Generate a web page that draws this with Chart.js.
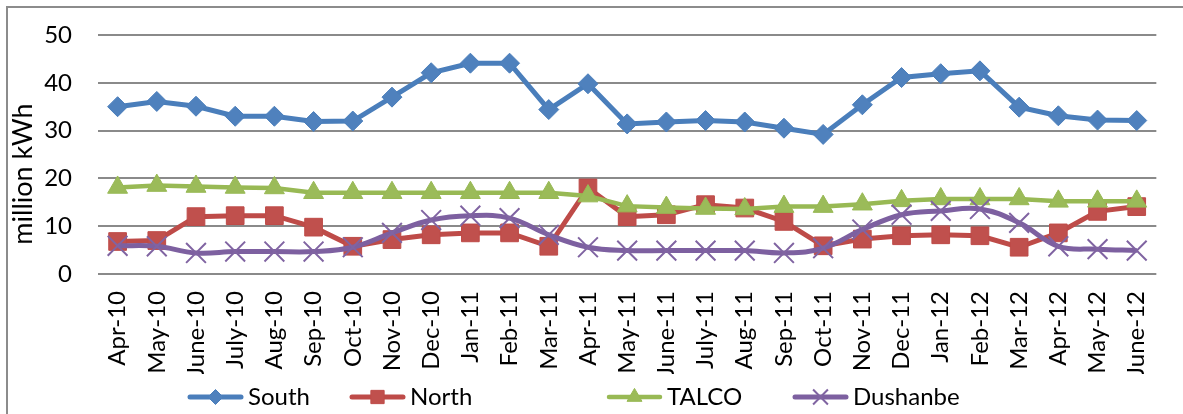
<!DOCTYPE html>
<html>
<head>
<meta charset="utf-8">
<title>Electricity consumption, million kWh</title>
<script src="https://cdn.jsdelivr.net/npm/chart.js@4/dist/chart.umd.min.js"></script>
<style>
  html, body { margin: 0; padding: 0; background: #fff; overflow: hidden; }
  #frame { position: absolute; left: 6px; top: 6px; width: 1300px; height: 500px;
           border: 2px solid #8c8c8c; box-sizing: border-box; }
  #c { position: absolute; left: 0; top: 0; }
</style>
</head>
<body>
<div id="frame"></div>
<canvas id="c" width="1183" height="414"></canvas>
<script>
// Monthly consumption by region, million kWh
const months = ['Apr-10','May-10','June-10','July-10','Aug-10','Sep-10','Oct-10','Nov-10','Dec-10',
  'Jan-11','Feb-11','Mar-11','Apr-11','May-11','June-11','July-11','Aug-11','Sep-11','Oct-11',
  'Nov-11','Dec-11','Jan-12','Feb-12','Mar-12','Apr-12','May-12','June-12'];

const south = [35.0, 36.1, 35.1, 33.0, 33.0, 31.9, 32.0, 37.0, 42.1, 44.1, 44.1, 34.4, 39.8, 31.4,
  31.8, 32.1, 31.8, 30.5, 29.2, 35.4, 41.1, 41.9, 42.5, 34.9, 33.1, 32.2, 32.1];

const north = [6.8, 7.0, 12.0, 12.2, 12.2, 9.8, 5.8, 7.2, 8.2, 8.6, 8.6, 5.8, 18.0, 12.0,
  12.4, 14.5, 13.8, 11.0, 5.9, 7.3, 8.0, 8.2, 8.0, 5.6, 8.6, 13.1, 14.1];

const talco = [18.1, 18.5, 18.3, 18.1, 18.0, 17.0, 17.0, 17.0, 17.0, 17.0, 17.0, 17.0, 16.3, 14.2,
  13.9, 13.7, 13.6, 14.1, 14.1, 14.6, 15.3, 15.7, 15.7, 15.7, 15.2, 15.2, 15.2];

const dushanbe = [5.9, 5.8, 4.4, 4.7, 4.7, 4.7, 5.6, 8.6, 11.3, 12.2, 11.7, 8.2, 5.6, 4.9,
  4.9, 4.9, 4.9, 4.4, 5.4, 9.3, 12.4, 13.2, 13.6, 10.7, 5.8, 5.2, 4.9];

const seriesNames = ['South', 'North', 'TALCO', 'Dushanbe'];
const yTicks = [0, 10, 20, 30, 40, 50];
const yTitle = 'million kWh';

const FONT = 'Lato, "Open Sans", "DejaVu Sans", sans-serif';
const FONT_SIZE = 24;
const TITLE_SIZE = 27;

// Legend entries: left edge of each symbol line
const legendLeft = [188, 350, 607, 793];
const legendY = 397;
const legendLine = 55;

function drawMarker(ctx, ds, x, y) {
  const opts = {
    pointStyle: ds.pointStyle,
    radius: ds.pointRadius,
    rotation: 0,
    borderWidth: ds.pointBorderWidth
  };
  ctx.save();
  ctx.fillStyle = ds.pointBackgroundColor;
  ctx.strokeStyle = ds.pointBorderColor;
  ctx.lineWidth = ds.pointBorderWidth;
  if (Chart.helpers && Chart.helpers.drawPoint) {
    Chart.helpers.drawPoint(ctx, opts, x, y);
  }
  ctx.restore();
}

const legendAndTitle = {
  id: 'legendAndTitle',
  afterDraw(chart) {
    const ctx = chart.ctx;
    // axis title
    ctx.save();
    ctx.font = TITLE_SIZE + 'px ' + FONT;
    ctx.fillStyle = '#000';
    ctx.textAlign = 'center';
    ctx.textBaseline = 'middle';
    ctx.translate(23, 174);
    ctx.rotate(-Math.PI / 2);
    ctx.fillText(yTitle, 0, 0);
    ctx.restore();

    // legend
    chart.data.datasets.forEach((ds, i) => {
      const x0 = legendLeft[i];
      ctx.save();
      ctx.strokeStyle = ds.borderColor;
      ctx.lineWidth = ds.borderWidth;
      ctx.lineCap = 'round';
      ctx.beginPath();
      ctx.moveTo(x0 + 2, legendY);
      ctx.lineTo(x0 + legendLine - 2, legendY);
      ctx.stroke();
      ctx.restore();
      drawMarker(ctx, Object.assign({}, ds, { pointRadius: ds.pointRadius * 0.75 }), x0 + legendLine / 2, legendY);
      ctx.save();
      ctx.font = FONT_SIZE + 'px ' + FONT;
      ctx.fillStyle = '#000';
      ctx.textAlign = 'left';
      ctx.textBaseline = 'middle';
      ctx.fillText(ds.label, x0 + legendLine + 5, legendY);
      ctx.restore();
    });
  }
};

function build() {
  const ctx = document.getElementById('c').getContext('2d');
  new Chart(ctx, {
    type: 'line',
    data: {
      labels: months,
      datasets: [
        {
          label: seriesNames[0], data: south, order: 4,
          borderColor: '#4A7EBB', borderWidth: 5,
          pointStyle: 'rectRot', pointRadius: 10, pointBorderWidth: 1,
          pointBackgroundColor: '#4F81BD', pointBorderColor: '#4A7EBB',
          tension: 0
        },
        {
          label: seriesNames[1], data: north, order: 3,
          borderColor: '#BE4B48', borderWidth: 5,
          pointStyle: 'rect', pointRadius: 12.5, pointBorderWidth: 1,
          pointBackgroundColor: '#C0504D', pointBorderColor: '#BE4B48',
          tension: 0
        },
        {
          label: seriesNames[2], data: talco, order: 2,
          borderColor: '#98B954', borderWidth: 4.5,
          pointStyle: 'triangle', pointRadius: 11.5, pointBorderWidth: 1,
          pointBackgroundColor: '#9BBB59', pointBorderColor: '#98B954',
          tension: 0
        },
        {
          label: seriesNames[3], data: dushanbe, order: 1,
          borderColor: '#7D60A0', borderWidth: 5,
          pointStyle: 'crossRot', pointRadius: 14, pointBorderWidth: 2,
          pointBackgroundColor: '#8064A2', pointBorderColor: '#8064A2',
          tension: 0.4, cubicInterpolationMode: 'default'
        }
      ]
    },
    options: {
      responsive: false,
      devicePixelRatio: 1,
      animation: false,
      layout: { padding: { left: 0, right: 25, top: 35, bottom: 40 } },
      plugins: {
        legend: { display: false },
        tooltip: { enabled: false },
        title: { display: false }
      },
      scales: {
        x: {
          type: 'category',
          offset: true,
          grid: { display: false, drawTicks: false },
          border: { display: false },
          ticks: {
            autoSkip: false, minRotation: 90, maxRotation: 90, padding: 17,
            color: '#000', font: { family: FONT, size: FONT_SIZE }
          },
          afterFit(scale) { scale.height = 100; }
        },
        y: {
          min: yTicks[0], max: yTicks[yTicks.length - 1],
          grid: { color: '#8a8a8a', lineWidth: 2, drawTicks: false },
          border: { display: false },
          ticks: {
            stepSize: 10, padding: 26,
            color: '#000', font: { family: FONT, size: FONT_SIZE }
          },
          afterFit(scale) {
            scale.width = 98;
            // the label gap should not push the plot area down
            scale.paddingTop = 0;
            scale.paddingBottom = 0;
          }
        }
      }
    },
    plugins: [legendAndTitle]
  });
}

if (document.fonts && document.fonts.load) {
  document.fonts.load(FONT_SIZE + 'px Lato').then(build, build);
} else {
  build();
}
</script>
</body>
</html>
